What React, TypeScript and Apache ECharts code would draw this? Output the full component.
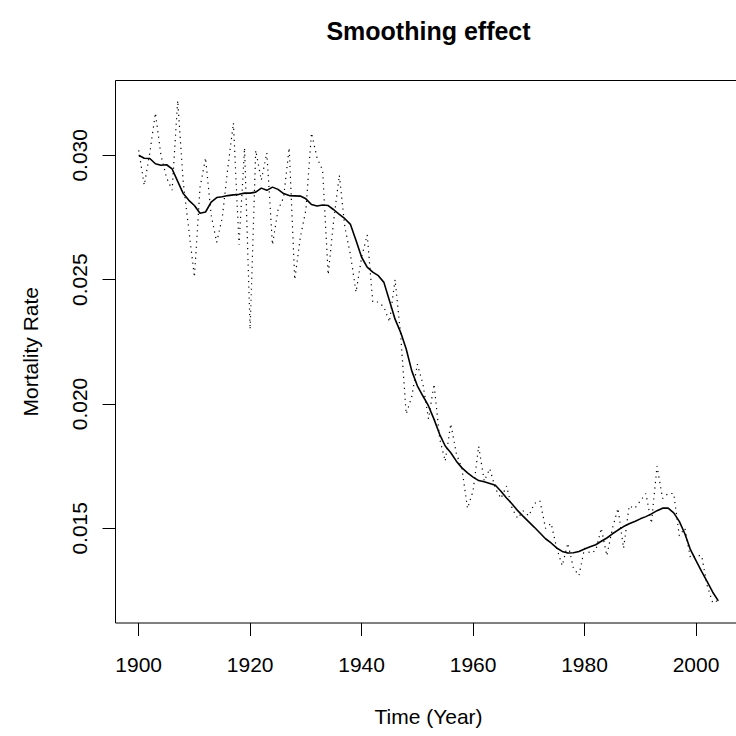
import React, { useEffect, useRef } from "react";
import * as echarts from "echarts";

const FONT = '"Liberation Sans", Arial, Helvetica, sans-serif';

const FIRST_YEAR = 1900;

// Annual mortality rate (dotted) and its smoothed version (solid), 1900–2004
const rawRate: number[] = [
  0.0302, 0.0288, 0.0301, 0.0317, 0.0300, 0.0291, 0.0286, 0.0322, 0.0289, 0.0270,
  0.0251, 0.0287, 0.0299, 0.0276, 0.0265, 0.0275, 0.0295, 0.0313, 0.0264, 0.0303,
  0.0230, 0.0302, 0.0290, 0.0301, 0.0264, 0.0278, 0.0283, 0.0303, 0.0250, 0.0267,
  0.0278, 0.0309, 0.0299, 0.0294, 0.0252, 0.0274, 0.0292, 0.0271, 0.0260, 0.0245,
  0.0259, 0.0268, 0.0241, 0.0241, 0.0239, 0.0233, 0.0250, 0.0228, 0.0196, 0.0203,
  0.0216, 0.0208, 0.0194, 0.0208, 0.0186, 0.0177, 0.0192, 0.0180, 0.0174, 0.0158,
  0.0165, 0.0183, 0.0169, 0.0174, 0.0166, 0.0162, 0.0167, 0.0158, 0.0154, 0.0157,
  0.0155, 0.0160, 0.0161, 0.0150, 0.0152, 0.0142, 0.0135, 0.0144, 0.0134, 0.0131,
  0.0142, 0.0140, 0.0141, 0.0150, 0.0139, 0.0150, 0.0158, 0.0142, 0.0159, 0.0158,
  0.0161, 0.0164, 0.0152, 0.0175, 0.0162, 0.0164, 0.0164, 0.0147, 0.0150, 0.0138,
  0.0139, 0.0139, 0.0127, 0.0120, 0.0121,
];

const smoothRate: number[] = [
  0.03000, 0.02988, 0.02987, 0.02966, 0.02960, 0.02962, 0.02945, 0.02895, 0.02846, 0.02819,
  0.02798, 0.02767, 0.02772, 0.02812, 0.02830, 0.02833, 0.02838, 0.02841, 0.02843, 0.02848,
  0.02848, 0.02852, 0.02868, 0.02859, 0.02872, 0.02863, 0.02846, 0.02838, 0.02837, 0.02836,
  0.02825, 0.02802, 0.02796, 0.02800, 0.02798, 0.02781, 0.02762, 0.02745, 0.02722, 0.02657,
  0.02590, 0.02550, 0.02530, 0.02516, 0.02489, 0.02415, 0.02341, 0.02288, 0.02221, 0.02133,
  0.02073, 0.02032, 0.01992, 0.01938, 0.01878, 0.01831, 0.01804, 0.01770, 0.01743, 0.01723,
  0.01706, 0.01692, 0.01687, 0.01680, 0.01673, 0.01649, 0.01622, 0.01598, 0.01571, 0.01548,
  0.01526, 0.01504, 0.01481, 0.01458, 0.01441, 0.01421, 0.01407, 0.01401, 0.01402, 0.01407,
  0.01417, 0.01426, 0.01434, 0.01448, 0.01461, 0.01478, 0.01493, 0.01507, 0.01518, 0.01527,
  0.01538, 0.01547, 0.01558, 0.01571, 0.01581, 0.01581, 0.01562, 0.01528, 0.01478, 0.01414,
  0.01370, 0.01327, 0.01286, 0.01243, 0.01208,
];

const xTicks: number[] = [1900, 1920, 1940, 1960, 1980, 2000];
const yTicks: number[] = [0.015, 0.02, 0.025, 0.03];

const toPairs = (vals: number[]) => vals.map((v, i) => [FIRST_YEAR + i, v]);

export default function App() {
  const ref = useRef<HTMLDivElement>(null);

  useEffect(() => {
    if (!ref.current) return;
    const chart = echarts.init(ref.current, null, { renderer: "svg" });

    const lastYear = FIRST_YEAR + rawRate.length - 1;
    const allVals = rawRate.concat(smoothRate);
    const yLo = Math.min(...allVals);
    const yHi = Math.max(...allVals);
    // 4% padding on each side of the data range
    const xPad = (lastYear - FIRST_YEAR) * 0.04;
    const yPad = (yHi - yLo) * 0.04;

    const textStyle = { color: "#000", fontFamily: FONT, fontSize: 21 };

    chart.setOption({
      animation: false,
      backgroundColor: "#fff",
      grid: {
        left: 115.5,
        top: 80.5,
        width: 626,
        height: 542.5,
        outerBoundsMode: "none",
        containLabel: false,
        show: true,
        borderColor: "#000",
        borderWidth: 1,
        backgroundColor: "transparent",
      },
      graphic: [
        {
          type: "text",
          x: 428.5,
          y: 31,
          style: {
            text: "Smoothing effect",
            fill: "#000",
            font: `bold 25px ${FONT}`,
            textAlign: "center",
            textVerticalAlign: "middle",
          },
        },
      ],
      xAxis: {
        type: "value",
        min: FIRST_YEAR - xPad,
        max: lastYear + xPad,
        axisLine: { show: false },
        splitLine: { show: false },
        axisTick: {
          show: true,
          customValues: xTicks,
          length: 13,
          lineStyle: { color: "#000", width: 1 },
        },
        axisLabel: {
          customValues: xTicks,
          margin: 31,
          formatter: (v: number) => String(Math.round(v)),
          ...textStyle,
        },
        name: "Time (Year)",
        nameLocation: "middle",
        nameGap: 83,
        nameTextStyle: textStyle,
      },
      yAxis: {
        type: "value",
        min: yLo - yPad,
        max: yHi + yPad,
        axisLine: { show: false },
        splitLine: { show: false },
        axisTick: {
          show: true,
          customValues: yTicks,
          length: 13,
          lineStyle: { color: "#000", width: 1 },
        },
        axisLabel: {
          customValues: yTicks,
          rotate: 90,
          margin: 26,
          formatter: (v: number) => v.toFixed(3),
          ...textStyle,
        },
        name: "Mortality Rate",
        nameLocation: "middle",
        nameRotate: 90,
        nameGap: 75,
        nameTextStyle: textStyle,
      },
      series: [
        {
          type: "line",
          data: toPairs(rawRate),
          symbol: "none",
          silent: true,
          lineStyle: { color: "#000", width: 1.2, type: [1.2, 4.3] },
        },
        {
          type: "line",
          data: toPairs(smoothRate),
          symbol: "none",
          silent: true,
          lineStyle: { color: "#000", width: 1.6 },
        },
      ],
    });

    return () => chart.dispose();
  }, []);

  return (
    <div
      ref={ref}
      style={{ position: "fixed", left: 0, top: 0, width: 736, height: 736, background: "#fff" }}
    />
  );
}
